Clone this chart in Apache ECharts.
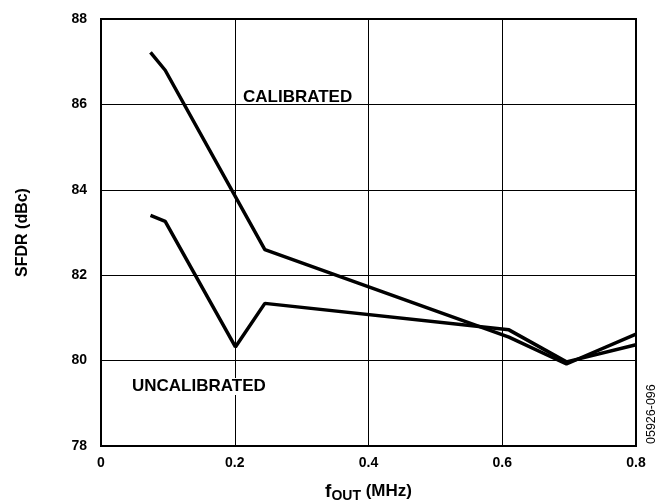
<!DOCTYPE html>
<html>
<head>
<meta charset="utf-8">
<script src="https://cdn.jsdelivr.net/npm/echarts@6/dist/echarts.min.js"></script>
<style>
  html, body { margin: 0; padding: 0; background: #fff; overflow: hidden; }
  #chart { width: 662px; height: 504px; }
</style>
</head>
<body>
<div id="chart"></div>
<script>
// data
const calX = [0.074, 0.096, 0.245, 0.61, 0.696, 0.8];
const calY = [87.22, 86.8, 82.6, 80.55, 79.92, 80.62];
const uncalX = [0.074, 0.096, 0.201, 0.245, 0.61, 0.696, 0.8];
const uncalY = [83.4, 83.26, 80.32, 81.34, 80.72, 79.97, 80.37];
const xTicks = [0, 0.2, 0.4, 0.6, 0.8];
const yTicks = [78, 80, 82, 84, 86, 88];

const font = 'Liberation Sans, Arial, sans-serif';
const pair = (xs, ys) => xs.map((x, i) => [x, ys[i]]);

const chart = echarts.init(document.getElementById('chart'));

const option = {
  animation: false,
  backgroundColor: '#fff',
  grid: {
    left: 101, right: 26, top: 19, bottom: 58,
    outerBoundsMode: 'none',
    containLabel: false,
    show: true, borderColor: '#000', borderWidth: 2
  },
  xAxis: {
    type: 'value',
    min: xTicks[0], max: xTicks[xTicks.length - 1], interval: 0.2,
    axisLine: { show: true, lineStyle: { color: '#000', width: 2 } },
    axisTick: { show: false },
    splitLine: { show: true, lineStyle: { color: '#000', width: 1 } },
    axisLabel: {
      color: '#000', fontFamily: font, fontWeight: 'bold', fontSize: 14, margin: 10,
      formatter: v => (v === 0 ? '0' : v.toFixed(1))
    },
    name: '{f|f}{sub|OUT}{u| (MHz)}',
    nameLocation: 'middle',
    nameGap: 34,
    nameTextStyle: {
      rich: {
        f: { fontFamily: font, fontWeight: 'bold', fontSize: 19, color: '#000' },
        sub: { fontFamily: font, fontWeight: 'bold', fontSize: 14, color: '#000', verticalAlign: 'bottom', padding: [9, 0, 0, 0] },
        u: { fontFamily: font, fontWeight: 'bold', fontSize: 17, color: '#000' }
      }
    }
  },
  yAxis: {
    type: 'value',
    min: yTicks[0], max: yTicks[yTicks.length - 1], interval: 2,
    axisLine: { show: true, lineStyle: { color: '#000', width: 2 } },
    axisTick: { show: false },
    splitLine: { show: true, lineStyle: { color: '#000', width: 1 } },
    axisLabel: {
      color: '#000', fontFamily: font, fontWeight: 'bold', fontSize: 14, margin: 14
    },
    name: 'SFDR (dBc)',
    nameLocation: 'middle',
    nameGap: 70,
    nameTextStyle: { color: '#000', fontFamily: font, fontWeight: 'bold', fontSize: 16 }
  },
  series: [
    {
      name: 'CALIBRATED',
      type: 'line',
      data: pair(calX, calY),
      symbol: 'none',
      lineStyle: { color: '#000', width: 3.5 },
      z: 5
    },
    {
      name: 'UNCALIBRATED',
      type: 'line',
      data: pair(uncalX, uncalY),
      symbol: 'none',
      lineStyle: { color: '#000', width: 3.5 },
      z: 5
    }
  ],
  graphic: [
    {
      type: 'text', left: 243, top: 89, z: 10,
      style: { text: 'CALIBRATED', fill: '#000', font: 'bold 17px ' + font }
    },
    {
      type: 'text', left: 132, top: 378, z: 10,
      style: { text: 'UNCALIBRATED', fill: '#000', backgroundColor: '#fff', font: 'bold 17px ' + font }
    },
    {
      type: 'text', x: 652, y: 444, rotation: Math.PI / 2, z: 10,
      style: { text: '05926-096', fill: '#000', font: '12.5px ' + font, align: 'left', verticalAlign: 'middle' }
    }
  ]
};

chart.setOption(option);
</script>
</body>
</html>
